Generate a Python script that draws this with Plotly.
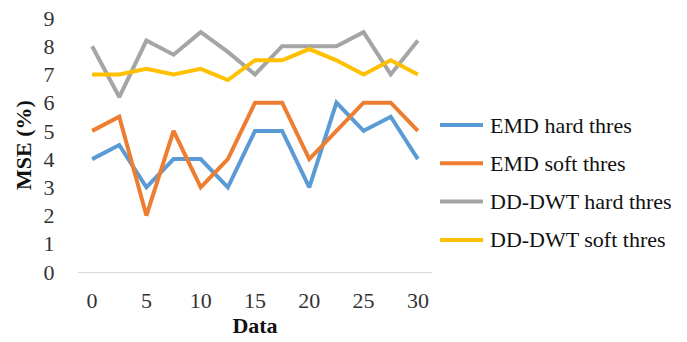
import plotly.graph_objects as go

data_x = [0, 2.5, 5, 7.5, 10, 12.5, 15, 17.5, 20, 22.5, 25, 27.5, 30]
emd_hard = [4, 4.5, 3, 4, 4, 3, 5, 5, 3, 6, 5, 5.5, 4]
emd_soft = [5, 5.5, 2, 5, 3, 4, 6, 6, 4, 5, 6, 6, 5]
dd_hard = [8, 6.2, 8.2, 7.7, 8.5, 7.8, 7, 8, 8, 8, 8.5, 7, 8.2]
dd_soft = [7, 7, 7.2, 7, 7.2, 6.8, 7.5, 7.5, 7.9, 7.5, 7, 7.5, 7]

series_names = ["EMD hard thres", "EMD soft thres", "DD-DWT hard thres", "DD-DWT soft thres"]
series_vals = [emd_hard, emd_soft, dd_hard, dd_soft]
series_colors = ["#5B9BD5", "#ED7D31", "#A5A5A5", "#FFC000"]

x_ticks = [0, 5, 10, 15, 20, 25, 30]
y_ticks = list(range(0, 10))

font_family = "Liberation Serif, Times New Roman, serif"

# plot area in pixels (for placing the side legend)
W, H = 687, 342
ML, MR, MT, MB = 78, 255, 18, 70
plot_w = W - ML - MR
plot_h = H - MT - MB


def px_to_paper_x(px):
    return (px - ML) / plot_w


def px_to_paper_y(py):
    return (H - MB - py) / plot_h


fig = go.Figure()
for name, vals, col in zip(series_names, series_vals, series_colors):
    fig.add_trace(go.Scatter(
        x=data_x, y=vals, name=name, mode="lines",
        line=dict(color=col, width=4),
        showlegend=False,
    ))

# side legend: a short line sample followed by the series name
legend_top, legend_step = 125, 38.3
shapes, annotations = [], []
for i, (name, col) in enumerate(zip(series_names, series_colors)):
    yc = px_to_paper_y(legend_top + i * legend_step)
    shapes.append(dict(
        type="line", xref="paper", yref="paper",
        x0=px_to_paper_x(440), x1=px_to_paper_x(483), y0=yc, y1=yc,
        line=dict(color=col, width=4),
    ))
    annotations.append(dict(
        text=name, xref="paper", yref="paper",
        x=px_to_paper_x(488), y=yc, xanchor="left", yanchor="middle",
        showarrow=False,
        font=dict(family=font_family, size=22, color="#111111"),
    ))

fig.update_layout(
    width=W, height=H,
    margin=dict(l=ML, r=MR, t=MT, b=MB, autoexpand=False),
    paper_bgcolor="white", plot_bgcolor="white",
    font=dict(family=font_family, size=22, color="#222222"),
    showlegend=False,
    shapes=shapes,
    annotations=annotations,
    xaxis=dict(
        range=[-1.3, 31.3], tickvals=x_ticks,
        showgrid=False, zeroline=False,
        showline=True, linecolor="#D9D9D9", linewidth=1,
        ticks="outside", ticklen=9, tickcolor="rgba(0,0,0,0)",
        tickfont=dict(family=font_family, size=22, color="#333333"),
        title=dict(text="<b>Data</b>", standoff=4,
                   font=dict(family=font_family, size=22, color="#111111")),
    ),
    yaxis=dict(
        range=[0, 9], tickvals=y_ticks,
        showgrid=False, zeroline=False, showline=False,
        ticks="outside", ticklen=18, tickcolor="rgba(0,0,0,0)",
        tickfont=dict(family=font_family, size=22, color="#333333"),
        title=dict(text="<b>MSE (%)</b>", standoff=5,
                   font=dict(family=font_family, size=22, color="#111111")),
    ),
)

fig.write_html("out.html")
